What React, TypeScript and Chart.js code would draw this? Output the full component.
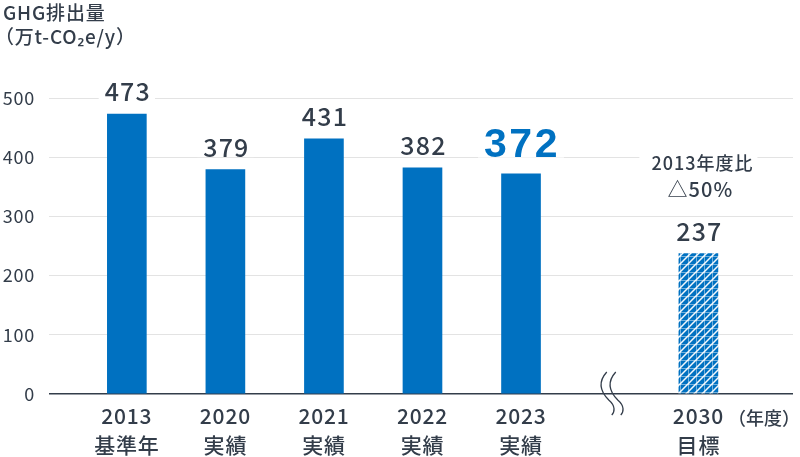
import React, { useEffect, useRef } from "react";
import { Chart, registerables } from "chart.js";

Chart.register(...registerables);

const years = ["2013", "2020", "2021", "2022", "2023", "2030"];
const subLabels = ["基準年", "実績", "実績", "実績", "実績", "目標"];
const xPositions = [0, 1, 2, 3, 4, 5.8];
const emissions = [473, 379, 431, 382, 372, 237];
const yTicks = [0, 100, 200, 300, 400, 500];
const breakAt = 4.87;
const targetNote = ["2013年度比", "△50%"];

const BLUE = "#0071c1";
const TEXT = "#333d4a";
const JP = "'Noto Sans CJK JP', 'Noto Sans', sans-serif";

function makePattern(): CanvasPattern | string {
  const c = document.createElement("canvas");
  c.width = 8;
  c.height = 8;
  const g = c.getContext("2d");
  if (!g) return BLUE;
  g.fillStyle = BLUE;
  g.fillRect(0, 0, 8, 8);
  g.strokeStyle = "rgba(255,255,255,0.95)";
  g.lineWidth = 1.5;
  g.beginPath();
  g.moveTo(-2, 10);
  g.lineTo(10, -2);
  g.moveTo(-2, 2);
  g.lineTo(2, -2);
  g.moveTo(6, 10);
  g.lineTo(10, 6);
  g.stroke();
  g.strokeStyle = "rgba(255,255,255,0.45)";
  g.lineWidth = 1;
  g.beginPath();
  g.moveTo(0, 0.5);
  g.lineTo(8, 0.5);
  g.moveTo(0.5, 0);
  g.lineTo(0.5, 8);
  g.stroke();
  return g.createPattern(c, "repeat") || BLUE;
}

const spacing = {
  id: "spacing",
  beforeDraw(chart: any) {
    (chart.ctx as any).letterSpacing = "0.8px";
  },
};

const overlay = {
  id: "overlay",
  afterDatasetsDraw(chart: any) {
    const ctx = chart.ctx;
    const meta = chart.getDatasetMeta(0);
    const xs = chart.scales.x;
    const area = chart.chartArea;
    ctx.save();
    meta.data.forEach((bar: any, i: number) => {
      const v = emissions[i];
      const highlight = i === 4;
      const size = highlight ? 41 : 25;
      ctx.font = highlight
        ? `bold ${size}px 'Liberation Sans', Arial, sans-serif`
        : `500 ${size}px ${JP}`;
      (ctx as any).letterSpacing = highlight ? "2.5px" : "1.2px";
      const txt = String(v);
      const w = ctx.measureText(txt).width;
      const baseline = bar.y - (highlight ? 17 : 13);
      ctx.fillStyle = "#ffffff";
      ctx.fillRect(bar.x - w / 2 - 5, baseline - size * 0.78, w + 10, size * 0.8);
      ctx.fillStyle = highlight ? BLUE : TEXT;
      ctx.textAlign = "center";
      ctx.textBaseline = "alphabetic";
      ctx.fillText(txt, bar.x + 1, baseline);
      if (i === 5) {
        const top = baseline - size * 0.78;
        (ctx as any).letterSpacing = "1px";
        ctx.font = `500 18px ${JP}`;
        const w1 = ctx.measureText(targetNote[0]).width;
        ctx.fillStyle = "#ffffff";
        ctx.fillRect(bar.x - w1 / 2 - 8, top - 76, w1 + 16, 60);
        ctx.fillStyle = TEXT;
        ctx.textBaseline = "middle";
        ctx.fillText(targetNote[0], bar.x + 4, top - 58);
        ctx.font = `500 20px ${JP}`;
        ctx.fillText(targetNote[1], bar.x + 2, top - 32);
      }
    });

    // axis break symbol
    const bx = xs.getPixelForValue(breakAt);
    const by = area.bottom;
    ctx.strokeStyle = TEXT;
    ctx.lineWidth = 1.3;
    [0, 9].forEach((dx) => {
      ctx.beginPath();
      ctx.moveTo(bx + dx, by - 22);
      ctx.bezierCurveTo(bx + dx - 9, by - 12, bx + dx - 6, by - 2, bx + dx + 2, by + 6);
      ctx.bezierCurveTo(bx + dx + 9, by + 12, bx + dx + 8, by + 18, bx + dx + 5, by + 21);
      ctx.stroke();
    });

    // year unit
    (ctx as any).letterSpacing = "0px";
    ctx.font = `500 18px ${JP}`;
    ctx.fillStyle = TEXT;
    ctx.textAlign = "right";
    ctx.textBaseline = "middle";
    ctx.fillText("（年度）", area.right + 7, by + 24);

    // title
    (ctx as any).letterSpacing = "0.8px";
    ctx.textAlign = "left";
    ctx.textBaseline = "top";
    ctx.font = `500 19px ${JP}`;
    ctx.fillText("GHG排出量", 3, 3);
    ctx.fillText("（万t-CO₂e/y）", -5, 27);
    ctx.restore();
  },
};

export default function App() {
  const ref = useRef<HTMLCanvasElement | null>(null);
  useEffect(() => {
    if (!ref.current) return;
    const pattern = makePattern();
    const colors = emissions.map((_, i) => (i === 5 ? pattern : BLUE));
    const chart = new Chart(ref.current, {
      type: "bar",
      data: {
        datasets: [
          {
            data: xPositions.map((x, i) => ({ x, y: emissions[i] })),
            backgroundColor: colors as any,
            barThickness: 39,
          },
        ],
      },
      options: {
        animation: false,
        responsive: false,
        maintainAspectRatio: false,
        layout: { padding: { top: 98, right: 7, left: 0, bottom: 0 } },
        plugins: { legend: { display: false }, tooltip: { enabled: false } },
        scales: {
          x: {
            type: "linear",
            offset: false,
            min: -0.79,
            max: 6.76,
            grid: { display: false, drawTicks: false },
            border: { display: false },
            afterBuildTicks: (scale: any) => {
              scale.ticks = xPositions.map((v) => ({ value: v }));
            },
            afterFit: (scale: any) => {
              scale.height = 63;
            },
            ticks: {
              autoSkip: false,
              maxRotation: 0,
              padding: 8,
              color: TEXT,
              font: { family: JP, size: 21, weight: 500, lineHeight: 1.38 } as any,
              callback: (_v: any, i: number) => [years[i], subLabels[i]],
            },
          },
          y: {
            min: 0,
            max: 500,
            afterBuildTicks: (scale: any) => {
              scale.ticks = yTicks.map((v) => ({ value: v }));
            },
            afterFit: (scale: any) => {
              scale.width = 49;
            },
            grid: {
              drawTicks: false,
              color: (c: any) => (c.tick && c.tick.value === 0 ? TEXT : "#e3e3e3"),
              lineWidth: (c: any) => (c.tick && c.tick.value === 0 ? 1.5 : 1),
            },
            border: { display: false },
            ticks: {
              padding: 14,
              color: TEXT,
              font: { family: JP, size: 18 },
            },
          },
        },
      },
      plugins: [spacing, overlay],
    });
    return () => chart.destroy();
  }, []);
  return (
    <div style={{ position: "fixed", left: 0, top: 0, width: 800, height: 457, background: "#fff" }}>
      <canvas ref={ref} width={800} height={457} style={{ width: 800, height: 457 }} />
    </div>
  );
}
